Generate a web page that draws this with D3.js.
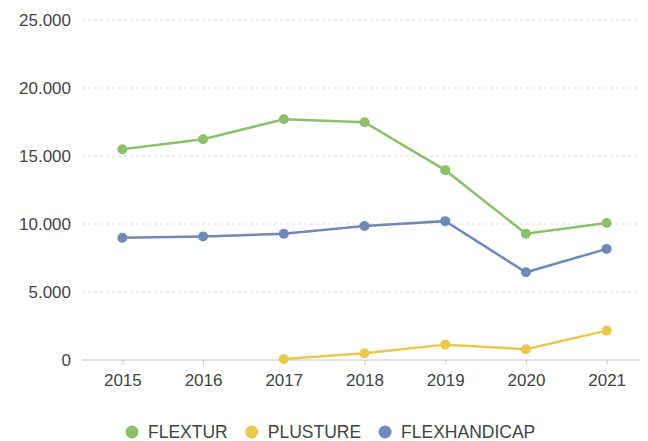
<!DOCTYPE html>
<html>
<head>
<meta charset="utf-8">
<script src="https://cdn.jsdelivr.net/npm/d3@7"></script>
<style>
  body { margin: 0; background: #fff; }
  svg { display: block; font-family: "Liberation Sans", Arial, sans-serif; }
</style>
</head>
<body>
<svg id="chart"></svg>
<script>
const years = ["2015", "2016", "2017", "2018", "2019", "2020", "2021"];
const flextur = [15500, 16230, 17700, 17480, 13960, 9280, 10080];
const plusture = [null, null, 80, 490, 1130, 790, 2160];
const flexhandicap = [8990, 9080, 9280, 9850, 10210, 6450, 8170];
const yTicks = [0, 5000, 10000, 15000, 20000, 25000];

const series = [
    { name: "FLEXTUR", color: "#8cc06c", values: flextur },
    { name: "PLUSTURE", color: "#e8c94c", values: plusture },
    { name: "FLEXHANDICAP", color: "#7089b9", values: flexhandicap }
];

const width = 648, height = 441;
const margin = { top: 20, right: 8, bottom: 82, left: 82 };

const svg = d3.select("#chart").attr("width", width).attr("height", height);

const x = d3.scalePoint()
    .domain(years)
    .range([margin.left, width - 1])
    .padding(0.5);

const y = d3.scaleLinear()
    .domain([0, 25000])
    .range([height - margin.bottom + 1, margin.top]);

const fmt = d => d === 0 ? "0" : d3.format(",")(d).replace(/,/g, ".");

// grid
svg.append("g")
    .selectAll("line")
    .data(yTicks.filter(d => d > 0))
    .join("line")
    .attr("x1", margin.left)
    .attr("x2", width - 8)
    .attr("y1", d => y(d))
    .attr("y2", d => y(d))
    .attr("stroke", "#dcdcdc")
    .attr("stroke-dasharray", "3,3");

// y axis labels
const yAxis = svg.append("g")
    .attr("transform", `translate(${margin.left}, 0)`)
    .call(d3.axisLeft(y).tickValues(yTicks).tickFormat(fmt).tickSize(0).tickPadding(11));
yAxis.select(".domain").remove();
yAxis.selectAll("text")
    .style("font-size", "17px")
    .style("font-family", "Liberation Sans, Arial, sans-serif")
    .attr("fill", "#444");

// x axis
const xAxis = svg.append("g")
    .attr("transform", `translate(0, ${y(0)})`)
    .call(d3.axisBottom(x).tickSize(5).tickPadding(9));
xAxis.select(".domain")
    .attr("d", `M${margin.left},0H${width - 8}`)
    .attr("stroke", "#c8c8c8");
xAxis.selectAll(".tick line").attr("stroke", "#c8c8c8");
xAxis.selectAll("text")
    .style("font-size", "17px")
    .style("font-family", "Liberation Sans, Arial, sans-serif")
    .attr("fill", "#444");

// lines
const line = d3.line()
    .defined(d => d.v != null)
    .x(d => x(d.year))
    .y(d => y(d.v));

series.forEach(s => {
    const pts = years.map((yr, i) => ({ year: yr, v: s.values[i] }));
    svg.append("path")
        .datum(pts)
        .attr("d", line)
        .attr("fill", "none")
        .attr("stroke", s.color)
        .attr("stroke-width", 2.5);
    svg.append("g")
        .selectAll("circle")
        .data(pts.filter(d => d.v != null))
        .join("circle")
        .attr("cx", d => x(d.year))
        .attr("cy", d => y(d.v))
        .attr("r", 5)
        .attr("fill", s.color);
});

// legend
const legend = svg.append("g").attr("transform", "translate(0, 432)");
let lx = 132;
series.forEach(s => {
    legend.append("circle")
        .attr("cx", lx)
        .attr("cy", 0)
        .attr("r", 6.5)
        .attr("fill", s.color);
    const t = legend.append("text")
        .attr("x", lx + 16)
        .attr("y", 0)
        .attr("dy", "0.35em")
        .style("font-size", "17.5px")
        .attr("fill", "#444")
        .text(s.name);
    lx += 16 + t.node().getComputedTextLength() + 24;
});
</script>
</body>
</html>
